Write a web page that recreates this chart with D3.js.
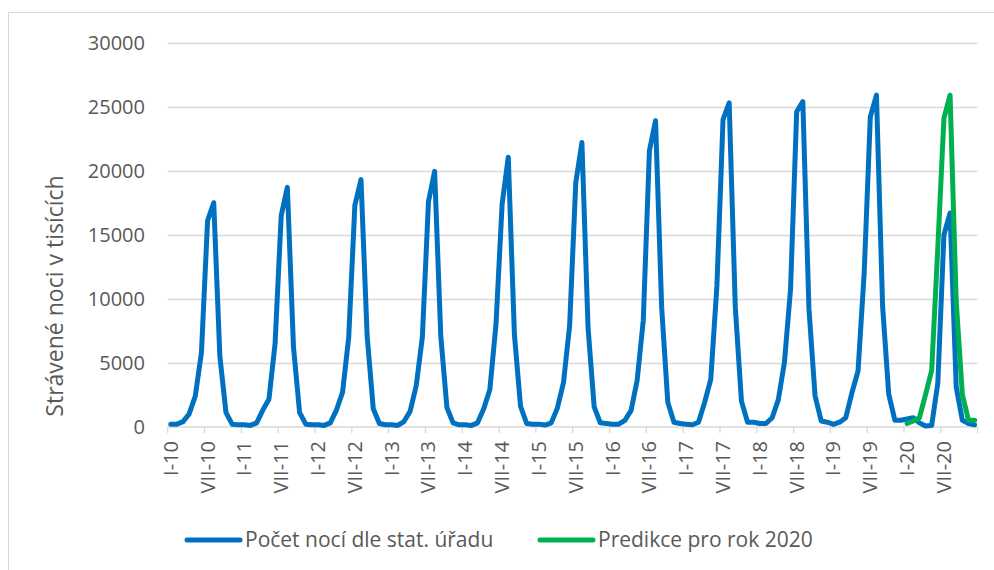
<!DOCTYPE html>
<html>
<head>
<meta charset="utf-8">
<script src="https://cdn.jsdelivr.net/npm/d3@7"></script>
<style>
  body { margin: 0; background: #fff; }
  svg { display: block; font-family: "Open Sans", "Noto Sans", sans-serif; }
</style>
</head>
<body>
<svg id="chart" width="994" height="570"></svg>
<script>
// monthly data, I-10 .. XII-20
var romanMonths = ['I','II','III','IV','V','VI','VII','VIII','IX','X','XI','XII'];
var years = ['10','11','12','13','14','15','16','17','18','19','20'];

var nights2010 = [200, 200, 400, 1000, 2400, 5800, 16100, 17500, 5500, 1100, 200, 150];
var nights2011 = [150, 100, 300, 1300, 2150, 6500, 16500, 18700, 6200, 1100, 200, 150];
var nights2012 = [150, 100, 300, 1300, 2700, 7000, 17300, 19300, 7100, 1400, 250, 150];
var nights2013 = [150, 100, 400, 1200, 3200, 7000, 17600, 19950, 7100, 1500, 300, 150];
var nights2014 = [150, 100, 300, 1400, 2900, 8000, 17400, 21050, 7200, 1600, 250, 200];
var nights2015 = [200, 130, 300, 1450, 3450, 7900, 19050, 22200, 7750, 1550, 300, 250];
var nights2016 = [200, 200, 500, 1250, 3600, 8300, 21550, 23900, 9300, 1900, 350, 250];
var nights2017 = [200, 150, 350, 1900, 3700, 11000, 24000, 25300, 9300, 2000, 350, 350];
var nights2018 = [250, 250, 700, 2100, 5000, 10750, 24600, 25400, 9200, 2400, 450, 350];
var nights2019 = [180, 350, 700, 2650, 4350, 12000, 24200, 25900, 9450, 2550, 500, 500];
var nights2020 = [600, 700, 300, 50, 100, 3400, 15000, 16700, 3100, 500, 250, 150];

var prediction2020 = [250, 450, 700, 2500, 4400, 14000, 24100, 25900, 9800, 2500, 500, 500];

var yTicks = [0, 5000, 10000, 15000, 20000, 25000, 30000];

var categories = [];
years.forEach(function(y) {
  romanMonths.forEach(function(m) { categories.push(m + '-' + y); });
});

var nights = [].concat(nights2010, nights2011, nights2012, nights2013, nights2014,
  nights2015, nights2016, nights2017, nights2018, nights2019, nights2020);

var blueSeries = nights.map(function(v, i) { return {cat: categories[i], v: v}; });
var greenSeries = prediction2020.map(function(v, i) {
  return {cat: categories[categories.length - 12 + i], v: v};
});

var svg = d3.select('#chart');
var textColor = '#595959', gridColor = '#d9d9d9';

// outer frame
svg.append('rect')
  .attr('x', 8.5).attr('y', 12.5)
  .attr('width', 1000).attr('height', 600)
  .attr('fill', 'none').attr('stroke', gridColor);

var x = d3.scaleBand().domain(categories).range([167.7, 977.7]).padding(0);
var y = d3.scaleLinear().domain([0, 30000]).range([426.7, 42.7]);
var bw = x.bandwidth();

// gridlines + y labels
var yg = svg.append('g');
yg.selectAll('line').data(yTicks.filter(function(t) { return t > 0; })).enter().append('line')
  .attr('x1', x.range()[0]).attr('x2', x.range()[1])
  .attr('y1', function(d) { return Math.round(y(d)) + 0.5; })
  .attr('y2', function(d) { return Math.round(y(d)) + 0.5; })
  .attr('stroke', gridColor).attr('stroke-width', 1.3);

yg.selectAll('text').data(yTicks).enter().append('text')
  .attr('x', 145).attr('y', function(d) { return y(d); })
  .attr('dy', '0.35em')
  .attr('text-anchor', 'end')
  .attr('fill', textColor)
  .style('font-size', '20px')
  .text(function(d) { return d; });

// x axis line and ticks
svg.append('line')
  .attr('x1', x.range()[0]).attr('x2', x.range()[1])
  .attr('y1', 427).attr('y2', 427)
  .attr('stroke', gridColor).attr('stroke-width', 1.3);

var tickCats = categories.filter(function(c, i) { return i % 6 === 0; });
svg.append('g').selectAll('line')
  .data(tickCats.concat(['__end']))
  .enter().append('line')
  .attr('x1', function(d) { return d === '__end' ? x.range()[1] : x(d); })
  .attr('x2', function(d) { return d === '__end' ? x.range()[1] : x(d); })
  .attr('y1', 427).attr('y2', 433)
  .attr('stroke', gridColor).attr('stroke-width', 1.3);

svg.append('g').selectAll('text').data(tickCats).enter().append('text')
  .attr('transform', function(d) { return 'translate(' + (x(d) + bw / 2) + ',441) rotate(-90)'; })
  .attr('dy', '0.35em')
  .attr('text-anchor', 'end')
  .attr('fill', textColor)
  .style('font-size', '20px')
  .text(function(d) { return d; });

// y axis title
svg.append('text')
  .attr('transform', 'translate(55,296) rotate(-90)')
  .attr('dy', '0.35em')
  .attr('text-anchor', 'middle')
  .attr('fill', textColor)
  .style('font-size', '23px')
  .text('Strávené noci v tisících');

var line = d3.line()
  .x(function(d) { return x(d.cat) + bw / 2; })
  .y(function(d) { return y(d.v); });

svg.append('path').datum(blueSeries)
  .attr('d', line)
  .attr('fill', 'none').attr('stroke', '#0070c0')
  .attr('stroke-width', 5)
  .attr('stroke-linejoin', 'round').attr('stroke-linecap', 'round');

svg.append('path').datum(greenSeries)
  .attr('d', line)
  .attr('fill', 'none').attr('stroke', '#00b050')
  .attr('stroke-width', 5)
  .attr('stroke-linejoin', 'round').attr('stroke-linecap', 'round');

// legend
var legend = [
  {label: 'Počet nocí dle stat. úřadu', color: '#0070c0', x: 187},
  {label: 'Predikce pro rok 2020', color: '#00b050', x: 540}
];
var lg = svg.append('g').selectAll('g').data(legend).enter().append('g')
  .attr('transform', function(d) { return 'translate(' + d.x + ',540)'; });
lg.append('line')
  .attr('x1', 0).attr('x2', 53).attr('y1', 0).attr('y2', 0)
  .attr('stroke', function(d) { return d.color; })
  .attr('stroke-width', 5).attr('stroke-linecap', 'round');
lg.append('text')
  .attr('x', 58).attr('dy', '0.35em')
  .attr('fill', textColor)
  .style('font-size', '21px')
  .text(function(d) { return d.label; });
</script>
</body>
</html>
